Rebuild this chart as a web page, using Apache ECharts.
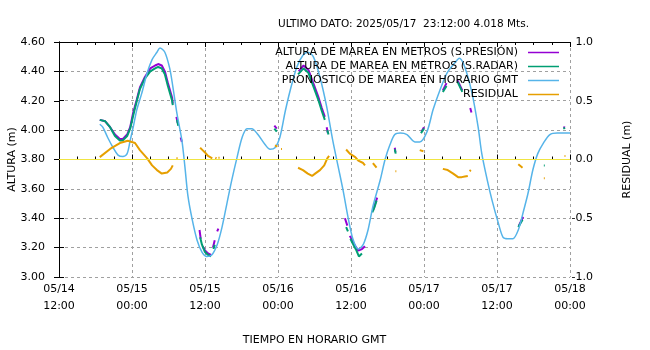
<!DOCTYPE html>
<html>
<head>
<meta charset="utf-8">
<script src="https://cdn.jsdelivr.net/npm/echarts@6/dist/echarts.min.js"></script>
<style>
  html, body { margin: 0; padding: 0; background: #fff; }
  #chart { width: 650px; height: 350px; }
</style>
</head>
<body>
<div id="chart"></div>
<script>
// Time is expressed in hours after 2025/05/14 12:00 GMT.
const tickLabels = ['05/14\n12:00', '05/15\n00:00', '05/15\n12:00', '05/16\n00:00',
                    '05/16\n12:00', '05/17\n00:00', '05/17\n12:00', '05/18\n00:00'];

// Tide forecast (m)
const prediccion = [
  [6.7,4.04],[7.2,4.02],[8.0,3.95],[8.9,3.88],[9.7,3.83],[10.5,3.82],[11.2,3.84],[11.7,3.93],
  [12.2,4.02],[12.8,4.14],[13.6,4.25],[14.5,4.39],[15.3,4.48],[16.1,4.53],[16.6,4.56],[17.4,4.53],
  [18.2,4.42],[18.7,4.30],[19.4,4.11],[20.2,3.93],[20.7,3.75],[21.2,3.55],[21.9,3.39],[22.7,3.25],
  [23.5,3.17],[24.3,3.14],[25.1,3.15],[26.0,3.22],[26.8,3.34],[27.6,3.50],[28.4,3.66],[29.3,3.82],
  [30.1,3.95],[30.9,4.01],[31.7,4.01],[32.7,3.97],[33.9,3.90],[34.7,3.87],[35.5,3.88],[36.3,3.95],
  [37.2,4.13],[38.0,4.27],[39.1,4.43],[40.1,4.51],[40.9,4.53],[41.8,4.50],[42.9,4.36],[44.0,4.16],
  [45.0,3.93],[45.9,3.75],[46.7,3.59],[47.5,3.41],[48.3,3.26],[49.2,3.19],[50.0,3.22],[50.8,3.32],
  [51.6,3.48],[52.8,3.66],[53.6,3.80],[54.4,3.90],[55.2,3.97],[56.1,3.98],[57.2,3.97],[58.5,3.92],
  [59.3,3.92],[60.5,3.99],[61.5,4.14],[62.6,4.27],[63.8,4.39],[65.1,4.46],[65.8,4.49],[66.7,4.43],
  [67.9,4.25],[68.9,4.02],[69.5,3.84],[70.4,3.66],[71.2,3.52],[72.2,3.37],[73.0,3.27],[73.8,3.26],
  [74.6,3.26],[75.5,3.32],[76.3,3.44],[77.1,3.57],[77.9,3.73],[78.7,3.84],[79.6,3.91],[80.7,3.97],
  [81.9,3.98],[83.7,3.98],[84.0,3.98]
];

// Observed height, pressure sensor (m) - stretches between data gaps
const presion = [
  [[6.7,4.07],[7.6,4.06],[8.4,4.02],[9.2,3.97],[10.0,3.94],[10.5,3.94],[11.2,3.97],[11.7,4.02],
   [12.2,4.12],[12.8,4.21],[13.3,4.29],[14.1,4.36],[15.0,4.42],[15.8,4.44],[16.3,4.45],[16.9,4.44],
   [17.4,4.40],[17.9,4.32],[18.6,4.22],[18.7,4.18]],
  [[19.3,4.09],[19.5,4.05]],
  [[20.0,3.95],[20.2,3.92]],
  [[23.1,3.32],[23.3,3.26]],
  [[23.6,3.21],[24.0,3.18],[24.5,3.16],[25.0,3.15]],
  [[25.3,3.20],[25.6,3.25]],
  [[26.0,3.31],[26.2,3.33]],
  [[35.4,4.03],[35.8,4.01]],
  [[39.4,4.40],[40.2,4.44],[41.0,4.41],[41.8,4.32],[42.6,4.23],[43.2,4.15],[43.7,4.09]],
  [[44.0,4.02],[44.2,3.98]],
  [[47.0,3.40],[47.4,3.35]],
  [[47.8,3.28],[48.2,3.25],[48.7,3.21],[49.2,3.18],[49.8,3.19],[50.3,3.21]],
  [[51.6,3.45],[51.9,3.49],[52.3,3.54]],
  [[55.2,3.88],[55.3,3.85]],
  [[59.6,3.99],[60.0,4.02]],
  [[63.1,4.27],[63.7,4.32]],
  [[65.5,4.34],[66.3,4.27]],
  [[67.6,4.15],[67.8,4.12]],
  [[75.6,3.35],[76.3,3.41]],
  [[82.9,4.02],[83.2,4.018]]
];

// Observed height, radar sensor (m)
const radar = [
  [[6.7,4.07],[7.6,4.06],[8.4,4.02],[9.2,3.96],[10.0,3.93],[10.5,3.93],[11.2,3.96],[11.7,4.01],
   [12.2,4.10],[12.8,4.20],[13.3,4.28],[14.1,4.35],[15.0,4.40],[15.8,4.42],[16.3,4.43],[16.9,4.42],
   [17.4,4.38],[17.9,4.30],[18.6,4.20],[18.7,4.17]],
  [[19.4,4.07],[19.6,4.03]],
  [[23.2,3.27],[23.5,3.22],[24.0,3.17],[24.5,3.15],[25.0,3.14]],
  [[25.4,3.19],[25.6,3.22]],
  [[35.4,4.01],[35.8,3.99]],
  [[39.3,4.38],[40.2,4.42],[41.0,4.39],[41.8,4.30],[42.6,4.21],[43.2,4.13],[43.7,4.07]],
  [[44.1,4.00],[44.3,3.97]],
  [[47.2,3.34],[47.5,3.31]],
  [[47.9,3.26],[48.4,3.22],[48.9,3.18],[49.3,3.14],[49.8,3.16]],
  [[51.5,3.44],[51.9,3.48],[52.2,3.52]],
  [[55.2,3.87],[55.35,3.84]],
  [[59.5,3.98],[60.0,4.01]],
  [[63.1,4.26],[63.7,4.30]],
  [[65.5,4.33],[66.3,4.26]],
  [[75.5,3.34],[76.2,3.39]],
  [[79.7,3.76],[79.85,3.76]],
  [[82.9,4.01],[83.2,4.015]]
];

// Residual, observed minus forecast (m)
const residual = [
  [[6.7,0.02],[8.4,0.09],[10.0,0.14],[11.3,0.16],[12.5,0.14],[13.3,0.08],[14.5,0.01],[15.3,-0.05],
   [16.1,-0.09],[16.9,-0.12],[17.8,-0.11],[18.4,-0.08],[18.7,-0.05]],
  [[19.3,0.01],[19.5,0.01]],
  [[23.2,0.10],[23.6,0.08],[24.0,0.06],[24.5,0.03],[25.2,0.01]],
  [[25.7,0.015],[25.9,0.01]],
  [[26.2,0.015],[26.4,0.015]],
  [[35.5,0.12],[35.9,0.11]],
  [[36.5,0.09],[36.65,0.09]],
  [[39.3,-0.07],[40.1,-0.09],[40.9,-0.12],[41.6,-0.14],[42.1,-0.12],[42.9,-0.09],[43.6,-0.05],
   [44.1,0.01],[44.4,0.03]],
  [[47.2,0.085],[47.8,0.05],[48.7,0.02],[49.2,-0.01],[50.0,-0.03],[50.3,-0.05]],
  [[51.6,-0.03],[52.2,-0.07]],
  [[55.3,-0.10],[55.45,-0.10]],
  [[59.3,0.08],[59.9,0.07]],
  [[63.1,-0.08],[63.9,-0.09],[64.8,-0.12],[65.6,-0.15],[66.2,-0.15],[66.7,-0.145],[67.2,-0.14]],
  [[67.5,-0.10],[67.7,-0.09]],
  [[75.5,-0.04],[76.2,-0.07]],
  [[79.7,-0.16],[79.85,-0.16]],
  [[83.1,0.03],[83.25,0.03]]
];

// Join the stretches, leaving a break between each
function withGaps(segments) {
  const out = [];
  segments.forEach((seg, i) => {
    if (i > 0) out.push([seg[0][0] - 0.05, null]);
    seg.forEach(p => out.push(p));
  });
  return out;
}

const FONT = 'DejaVu Sans';
const txt = { fontFamily: FONT, fontSize: 11, color: '#000' };
const black = { color: '#000', width: 1 };
const gridDash = { color: '#a0a0a0', type: [3, 3], width: 1 };

const names = [
  'ALTURA DE MAREA EN METROS (S.PRESIÓN)',
  'ALTURA DE MAREA EN METROS (S.RADAR)',
  'PRONÓSTICO DE MAREA EN HORARIO GMT',
  'RESIDUAL'
];

const chart = echarts.init(document.getElementById('chart'), null, { renderer: 'canvas' });
chart.setOption({
  animation: false,
  backgroundColor: '#fff',
  textStyle: txt,
  title: {
    text: 'ULTIMO DATO: 2025/05/17  23:12:00 4.018 Mts.',
    left: 273, top: 14,
    textStyle: { fontFamily: FONT, fontSize: 10.5, fontWeight: 'normal', color: '#000' }
  },
  legend: {
    data: names,
    orient: 'vertical',
    align: 'right',
    right: 86, top: 41,
    itemWidth: 31, itemHeight: 1.5, itemGap: 1,
    icon: 'rect',
    selectedMode: false,
    textStyle: { fontFamily: FONT, fontSize: 11, color: '#000', lineHeight: 13, padding: [0, 5, 0, 0] }
  },
  grid: { left: 59, right: 80, top: 42, bottom: 73, outerBoundsMode: 'none' },
  xAxis: [
    {
      type: 'value', min: 0, max: 84, interval: 12, position: 'bottom',
      name: 'TIEMPO EN HORARIO GMT', nameLocation: 'middle', nameGap: 58,
      nameMoveOverlap: false,
      nameTextStyle: txt,
      axisLine: { lineStyle: black },
      axisTick: { inside: true, length: 5, lineStyle: black },
      minorTick: { show: true, splitNumber: 4, length: 3, lineStyle: black },
      splitLine: { show: true, lineStyle: gridDash },
      axisLabel: {
        ...txt, margin: 4, lineHeight: 17, showMinLabel: true, showMaxLabel: true,
        formatter: v => tickLabels[Math.round(v / 12)]
      }
    },
    {
      type: 'value', min: 0, max: 84, interval: 12, position: 'top',
      axisLine: { lineStyle: black },
      axisTick: { inside: true, length: 5, lineStyle: black },
      minorTick: { show: true, splitNumber: 4, length: 3, lineStyle: black },
      splitLine: { show: false },
      axisLabel: { show: false }
    }
  ],
  yAxis: [
    {
      type: 'value', min: 3.0, max: 4.6, interval: 0.2,
      name: 'ALTURA (m)', nameLocation: 'middle', nameGap: 41, nameRotate: 90,
      nameMoveOverlap: false,
      nameTextStyle: txt,
      axisLine: { show: true, lineStyle: black },
      axisTick: { show: true, inside: true, length: 5, lineStyle: black },
      splitLine: { show: true, lineStyle: gridDash },
      axisLabel: { ...txt, margin: 14, formatter: v => v.toFixed(2) }
    },
    {
      type: 'value', min: -1.0, max: 1.0, interval: 0.5, position: 'right',
      name: 'RESIDUAL (m)', nameLocation: 'middle', nameGap: 52, nameRotate: 90,
      nameMoveOverlap: false,
      nameTextStyle: txt,
      axisLine: { show: true, lineStyle: black },
      axisTick: { show: true, inside: true, length: 5, lineStyle: black },
      minorTick: { show: true, splitNumber: 2, length: 5, lineStyle: black },
      splitLine: { show: false },
      axisLabel: { ...txt, margin: 23, align: 'right', formatter: v => v.toFixed(1) }
    }
  ],
  series: [
    {
      // zero line of the residual axis
      type: 'line', yAxisIndex: 1, data: [], silent: true,
      markLine: {
        silent: true, symbol: 'none', animation: false,
        label: { show: false },
        lineStyle: { color: '#f0e442', type: 'solid', width: 1 },
        data: [{ yAxis: 0 }]
      }
    },
    {
      name: names[0], type: 'line', data: withGaps(presion),
      showSymbol: false, connectNulls: false,
      color: '#9400d3', lineStyle: { width: 2, color: '#9400d3' }
    },
    {
      name: names[1], type: 'line', data: withGaps(radar),
      showSymbol: false, connectNulls: false,
      color: '#009e73', lineStyle: { width: 2, color: '#009e73' }
    },
    {
      name: names[2], type: 'line', data: prediccion,
      showSymbol: false, smooth: 0.3,
      color: '#56b4e9', lineStyle: { width: 1.5, color: '#56b4e9' }
    },
    {
      name: names[3], type: 'line', yAxisIndex: 1, data: withGaps(residual),
      showSymbol: false, connectNulls: false,
      color: '#e69f00', lineStyle: { width: 2, color: '#e69f00' }
    }
  ]
});
</script>
</body>
</html>
